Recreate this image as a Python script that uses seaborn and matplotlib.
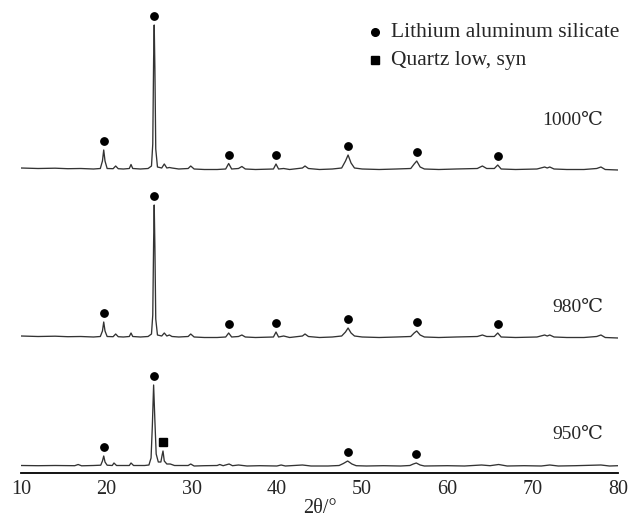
import numpy as np
import pandas as pd
import matplotlib
matplotlib.use("Agg")
import matplotlib.pyplot as plt
import seaborn as sns
from matplotlib.ticker import MultipleLocator

# 2theta grid shared by the 1000 and 980 patterns
two_theta_hi = [
    10.0, 12.0, 14.0, 15.5, 17.0, 18.5, 19.3, 19.55, 19.7, 19.85,
    20.1, 20.8, 21.1, 21.4, 22.0, 22.7, 22.9, 23.1, 24.0, 24.9,
    25.3, 25.45, 25.55, 25.62, 25.7, 25.8, 26.0, 26.5, 26.8, 27.1,
    27.4, 27.7, 28.5, 29.6, 29.9, 30.3, 31.5, 33.0, 34.0, 34.35,
    34.7, 35.5, 35.9, 36.3, 37.5, 39.6, 39.9, 40.2, 40.8, 41.5,
    43.0, 43.3, 43.7, 45.0, 46.5, 47.6, 48.05, 48.35, 48.7, 49.1,
    50.0, 52.0, 54.0, 55.7, 56.1, 56.4, 56.8, 57.3, 59.0, 61.0,
    63.5, 64.1, 64.6, 65.5, 65.9, 66.3, 68.0, 70.5, 71.4, 71.7,
    72.0, 72.5, 74.0, 76.0, 77.5, 78.0, 78.5, 80.0,
]
intensity_1000 = [
    1, 0.5, 0.8, 0.3, 0.5, 0, 0.5, 8, 19, 8,
    0.5, 0.3, 3, 0.3, 0, 0.5, 4.5, 0.5, 0, 0.5,
    3, 25, 110, 144, 100, 20, 2, 1, 5, 1,
    1.5, 1, 0, 0.5, 3, 0, -0.5, -0.5, 0, 5.5,
    0, 0.5, 2.5, 0, -0.5, 0, 5, 0, 0.5, -0.5,
    1, 3, 0.5, -0.5, 0, 1, 8, 14, 6, 1,
    0, -0.5, 0, 0.5, 5, 8, 2, 0, -0.5, 0,
    0.5, 3, 0.5, 0.5, 4, 0, -0.5, 0, 2, 1,
    2, 0, -0.5, -0.5, 0.5, 2, -0.5, -1,
]
intensity_980 = [
    1, 0.5, 0.8, 0.3, 0.5, 0, 0.5, 6, 15, 6,
    0.5, 0.3, 3, 0.3, 0, 0.5, 4, 0.5, 0, 0.5,
    3, 22, 95, 132, 90, 18, 2, 1, 4, 1,
    2, 0.5, 0, 0.5, 3, 0, -0.5, -0.5, 0, 4,
    0, 0.5, 2, 0, -0.5, 0, 5, 0, 1, -0.5,
    1, 3, 0.5, -0.5, 0, 1, 5, 9, 4, 1,
    0, -0.5, 0, 0.5, 4, 6, 2, 0, -0.5, 0,
    0.5, 2, 0.5, 0.5, 4, 0, -0.5, 0, 2, 1,
    2, 0, -0.5, -0.5, 0.5, 2, -0.5, -1,
]

two_theta_950 = [
    10.0, 12.0, 14.0, 16.3, 16.7, 17.1, 18.5, 19.35, 19.55, 19.7,
    19.85, 20.1, 20.7, 20.9, 21.2, 22.0, 22.7, 22.9, 23.2, 24.5,
    25.0, 25.25, 25.4, 25.55, 25.7, 25.85, 26.1, 26.4, 26.55, 26.65,
    26.8, 27.1, 27.5, 28.0, 29.6, 29.9, 30.3, 31.5, 33.0, 33.3,
    33.7, 34.4, 34.8, 35.5, 36.5, 38.0, 40.0, 40.5, 41.0, 43.0,
    44.0, 46.0, 47.3, 47.8, 48.3, 48.8, 49.3, 50.5, 52.5, 54.5,
    55.6, 56.0, 56.35, 56.8, 57.3, 60.0, 62.0, 64.0, 65.0, 66.0,
    67.0, 69.0, 71.0, 72.0, 73.0, 75.0, 78.0, 79.0, 80.0,
]
intensity_950 = [
    0.5, 0.3, 0.5, 0.3, 1.5, 0.2, 0.5, 0.8, 5, 10,
    4, 0.8, 0.5, 3, 0.5, 0.5, 0.5, 3, 0.5, 0.5,
    1, 8, 40, 81, 45, 12, 4, 4, 11, 15,
    5, 2, 2, 0.5, 0.5, 2, 0, 0.3, 0.5, 1.5,
    0.3, 2, 0.3, 1, 0, 0.3, 0, 1, 0, 1,
    0, 0, 0.5, 2.5, 5, 2, 0.3, 0, 0.3, 0,
    0.5, 2, 3, 1, 0, 0.3, 0, 1, 0.3, 1.5,
    0, 0.3, 0, 1, 0, 0.3, 1, 0, 0.3,
]

# peak positions carrying phase markers
las_peaks_1000 = [19.7, 25.62, 34.35, 39.9, 48.35, 56.4, 65.9]
las_peaks_980 = [19.7, 25.62, 34.35, 39.9, 48.35, 56.4, 65.9]
las_peaks_950 = [19.7, 25.55, 48.3, 56.35]
quartz_peaks_950 = [26.65]

temperatures = ["1000℃", "980℃", "950℃"]
legend_labels = ["Lithium aluminum silicate", "Quartz low, syn"]

# vertical stacking of the patterns
offsets = [297, 129, 0]
GAP = 9
LINE = "#333333"

sns.set_style("white")
plt.rcParams["font.family"] = ["Liberation Serif", "DejaVu Serif", "DejaVu Sans"]

fig = plt.figure(figsize=(6.32, 5.25), dpi=100)
ax = fig.add_axes([21 / 632, 52 / 525, 597 / 632, 473 / 525])

traces = [
    (two_theta_hi, intensity_1000, las_peaks_1000, []),
    (two_theta_hi, intensity_980, las_peaks_980, []),
    (two_theta_950, intensity_950, las_peaks_950, quartz_peaks_950),
]

for (x, y, las, qtz), off in zip(traces, offsets):
    df = pd.DataFrame({"two_theta": x, "intensity": np.array(y, dtype=float) + off})
    sns.lineplot(data=df, x="two_theta", y="intensity", ax=ax, color=LINE,
                 lw=0.95, estimator=None, sort=False)
    if las:
        ax.plot(las, np.interp(las, x, y) + off + GAP, "o", ms=5.3,
                color="black", mec="black")
    if qtz:
        ax.plot(qtz, np.interp(qtz, x, y) + off + GAP, "s", ms=5.8,
                color="black", mec="black")

# temperature labels
for label, ypos in zip(temperatures, [0.746, 0.349, 0.082]):
    ax.text(0.975, ypos, label, transform=ax.transAxes, ha="right",
            va="center", fontsize=14)

# phase legend
for marker, ypos, label in zip(["o", "s"], [0.932, 0.873], legend_labels):
    ax.plot([0.593], [ypos], marker, ms=5.5 if marker == "o" else 5.8,
            color="black", transform=ax.transAxes, clip_on=False)
    ax.text(0.620, ypos, label, transform=ax.transAxes, ha="left",
            va="center", fontsize=15.5)

ax.set_xlim(10, 80)
ax.set_ylim(-7, 466)
ax.xaxis.set_major_locator(MultipleLocator(10))
ax.xaxis.set_minor_locator(MultipleLocator(5))
ax.tick_params(axis="x", which="major", direction="in", length=5.5,
               width=1.1, labelsize=14.5, pad=5, color="black")
ax.tick_params(axis="x", which="minor", direction="in", length=3,
               width=1.0, color="black")
ax.set_yticks([])
for side in ["left", "right", "top"]:
    ax.spines[side].set_visible(False)
ax.spines["bottom"].set_linewidth(1.3)
ax.spines["bottom"].set_color("black")
ax.set_xlabel("2θ/°", fontsize=14.5, labelpad=0)
ax.set_ylabel("")

fig.savefig("out.png", dpi=100)
plt.close(fig)
